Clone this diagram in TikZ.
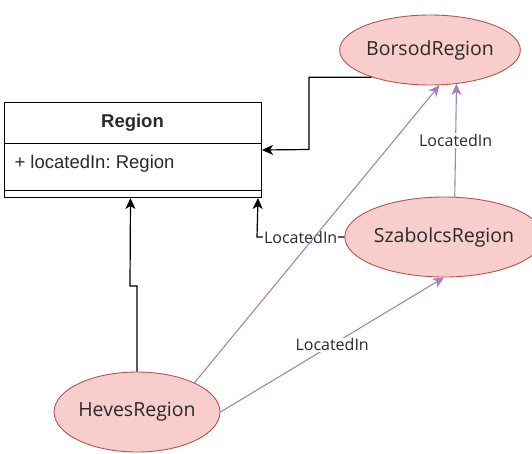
\documentclass[tikz,border=0pt]{standalone}
\usepackage{fontspec}
\setmainfont{Open Sans}
\newfontfamily\classfont{Liberation Sans}
\usetikzlibrary{shapes.geometric,arrows.meta}
\definecolor{instfill}{HTML}{F8CECC}
\definecolor{instline}{HTML}{B85450}
\definecolor{linkline}{HTML}{A680B8}
\definecolor{txt}{HTML}{2A2A2A}
\frenchspacing

\begin{document}
\begin{tikzpicture}[x=1pt,y=-1pt,
    instance/.style={ellipse, draw=instline, fill=instfill, line width=0.9pt, inner sep=0pt,
      text=txt, font=\fontsize{19.5}{23}\selectfont},
    uml/.style={draw=black, line width=1.2pt, -{Stealth[length=11pt,width=10pt,inset=3pt]}},
    link/.style={draw=linkline, line width=1.1pt, -{Stealth[length=11pt,width=10pt,inset=3pt]}},
    lbl/.style={fill=white, inner sep=1pt, text=txt, font=\fontsize{16}{19}\selectfont}]
			\useasboundingbox (0,0) rectangle (532,453);
			% class box
			\node (region) [draw, line width=1pt, fill=white, anchor=north west, minimum width=257pt, minimum height=95pt, inner sep=0pt] at (4,102) {};
			\draw[line width=1pt] (4,143) -- (261,143);
			\draw[line width=1pt] (4,190) -- (261,190);
			\node (regiontitle) at (132.5,123) [text=txt, font=\classfont\bfseries\fontsize{18.5}{21}\selectfont] {Region};
			\node (regionattr) at (11,164) [anchor=west, text=txt, font=\classfont\fontsize{18.5}{21}\selectfont] {+ locatedIn: Region};
			% instances
			\node (borsod)   [instance, minimum width=145pt, minimum height=70pt] at (430,50)  {BorsodRegion};
			\node (szabolcs) [instance, minimum width=155pt, minimum height=80pt] at (444,237) {SzabolcsRegion};
			\node (heves)    [instance, minimum width=160pt, minimum height=80pt] at (137,412) {HevesRegion};
			% instance of
			\draw[uml] (borsod.205) -| (309,149.5) -- (region.east);
			\draw[uml] (szabolcs.west) -- node[lbl] {LocatedIn} (257,237) -- ([xshift=-4pt]region.south east);
			\draw[uml] (heves.north) -- (137,286) -- (130,286) -- ([xshift=-2.5pt]region.south);
			% located in
			\draw[link] (heves.27) -- (borsod.-75);
			\draw[link] (heves.east) -- node[lbl] {LocatedIn} (szabolcs.south);
			\draw[link] (szabolcs.75) -- node[lbl] {LocatedIn} (borsod.-52);
		\end{tikzpicture}
\end{document}
